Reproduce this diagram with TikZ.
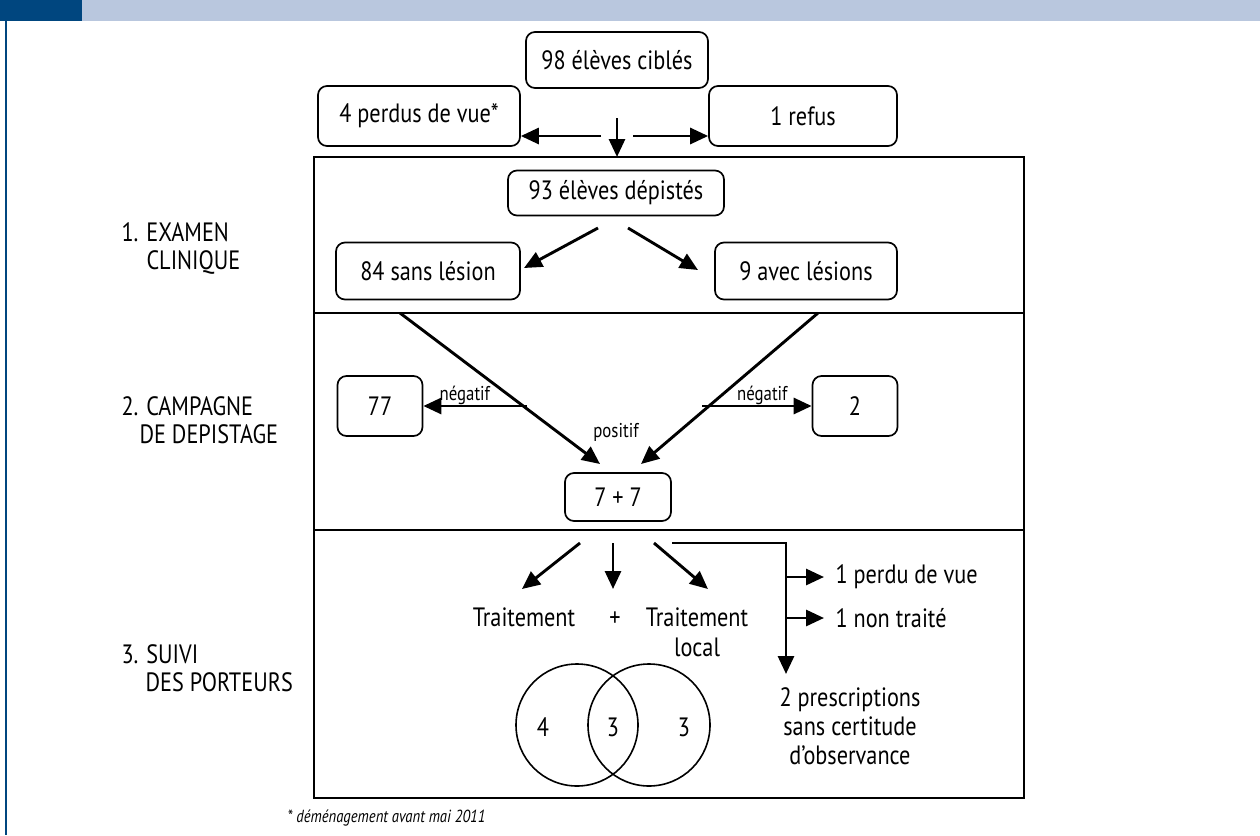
\documentclass[tikz,border=0pt]{standalone}
\usepackage{fontspec}
\setmainfont{PT Sans}[FakeStretch=0.84]
\usepackage{tikz}
\usetikzlibrary{arrows.meta}
\usetikzlibrary{positioning}
\definecolor{headblue}{RGB}{0,70,127}
\definecolor{bandblue}{RGB}{185,199,222}
\tikzstyle{box}=[draw,rounded corners=9pt,line width=1.7pt,align=center,inner sep=2pt]
\tikzstyle{arr}=[line width=2.9pt,-{Triangle[length=18pt,width=16pt]}]
\tikzstyle{lab}=[align=left,anchor=west]

\begin{document}
\begin{tikzpicture}[x=1pt,y=-1pt,font=\fontsize{26.5}{31}\selectfont]
\useasboundingbox (0,0) rectangle (1260,835);
\fill[bandblue] (82,0) rectangle (1260,21);
\fill[headblue] (0,0) rectangle (82,21);
\draw[headblue,line width=1.2pt] (6,21) -- (6,835);
\draw[line width=2.6pt] (314,157) rectangle (1024,798);
\draw[line width=2.6pt] (314,313) -- (1024,313);
\draw[line width=2.6pt] (314,530) -- (1024,530);
\node [box,minimum width=182pt,minimum height=56pt] (cib) at (617,60) {98 élèves ciblés};
\node [box,minimum width=202pt,minimum height=60pt] (perd) at (419,116) {4 perdus de vue*};
\node [box,minimum width=188pt,minimum height=60pt] (ref) at (803,116) {1 refus};
\node [box,minimum width=216pt,minimum height=45pt] (dep) at (616,193) {93 élèves dépistés};
\node [box,minimum width=184pt,minimum height=57pt] (sans) at (428,271) {84 sans lésion};
\node [box,minimum width=182pt,minimum height=57pt] (avec) at (806,271) {9 avec lésions};
\node [box,minimum width=85pt,minimum height=60pt] (neg1) at (380,406) {77};
\node [box,minimum width=85pt,minimum height=60pt] (neg2) at (855,406) {2};
\node [box,minimum width=106pt,minimum height=48pt] (pos) at (618,497) {7 + 7};
\node (t1) at (524,617) {Traitement};
\node (plus) at (615,619) {+};
\node [align=center] (t2) at (697,632) {Traitement\\[-1pt]local};
\node (c1) at (543,727) {4};
\node (c2) at (613,727) {3};
\node (c3) at (684,727) {3};
\draw[line width=1.6pt] (577,725) circle (61);
\draw[line width=1.6pt] (649,725) circle (61);
\node [lab] (pv) at (832,577) {1 perdu de vue};
\node [lab] (nt) at (832,618) {1 non traité};
\node [align=center,font=\fontsize{26.5}{29}\selectfont] (pre) at (850,726) {2 prescriptions\\sans certitude\\d’observance};
\node [lab] (s1) at (118,248) {1. EXAMEN\\[-3pt]\hspace*{25pt}CLINIQUE};
\node [lab] (s2) at (118,420) {2. CAMPAGNE\\[-3pt]\hspace*{18pt}DE DEPISTAGE};
\node [lab] (s3) at (118,668) {3. SUIVI\\[-3pt]\hspace*{24pt}DES PORTEURS};
\node [anchor=west,font=\fontsize{17.5}{20}\selectfont\itshape] (note) at (284,818) {* déménagement avant mai 2011};
\coordinate (a0) at (617,118);
\coordinate (a1) at (617,157);
\coordinate (a2) at (601,136);
\coordinate (a3) at (633,136);
\draw[arr] (a0) -- (a1);
\draw[arr] (a2) -- (perd.east |- a2);
\draw[arr] (a3) -- (ref.west |- a3);
\coordinate (b1) at (598,228);
\coordinate (b2) at (628,228);
\draw[arr] (b1) -- (524,268);
\draw[arr] (b2) -- (698,270);
\coordinate (dl) at (400,313);
\coordinate (dr) at (818,313);
\draw[arr] (dl) -- (600,464);
\draw[arr] (dr) -- (641,464);
\coordinate (nl) at (527,406);
\coordinate (nr) at (702,406);
\draw[arr] (nl) -- (neg1) node[pos=0.6,above=-4pt,font=\fontsize{20}{22}\selectfont] {négatif};
\draw[arr] (nr) -- (neg2) node[pos=0.55,above=-4pt,font=\fontsize{20}{22}\selectfont] {négatif};
\node [font=\fontsize{20}{22}\selectfont] (posl) at (616,432) {positif};
\coordinate (e1) at (580,543);
\coordinate (e2) at (613,543);
\coordinate (e3) at (654,543);
\draw[arr] (e1) -- (522,589);
\draw[arr] (e2) -- (613,589);
\draw[arr] (e3) -- (708,589);
\coordinate (k0) at (672,543);
\coordinate (k1) at (786,543);
\coordinate (k2) at (786,674);
\draw[arr] (k0) -- (k1) -- (k2);
\draw[arr] (786,577) -- (824,577);
\draw[arr] (786,618) -- (824,618);
\end{tikzpicture}
\end{document}
